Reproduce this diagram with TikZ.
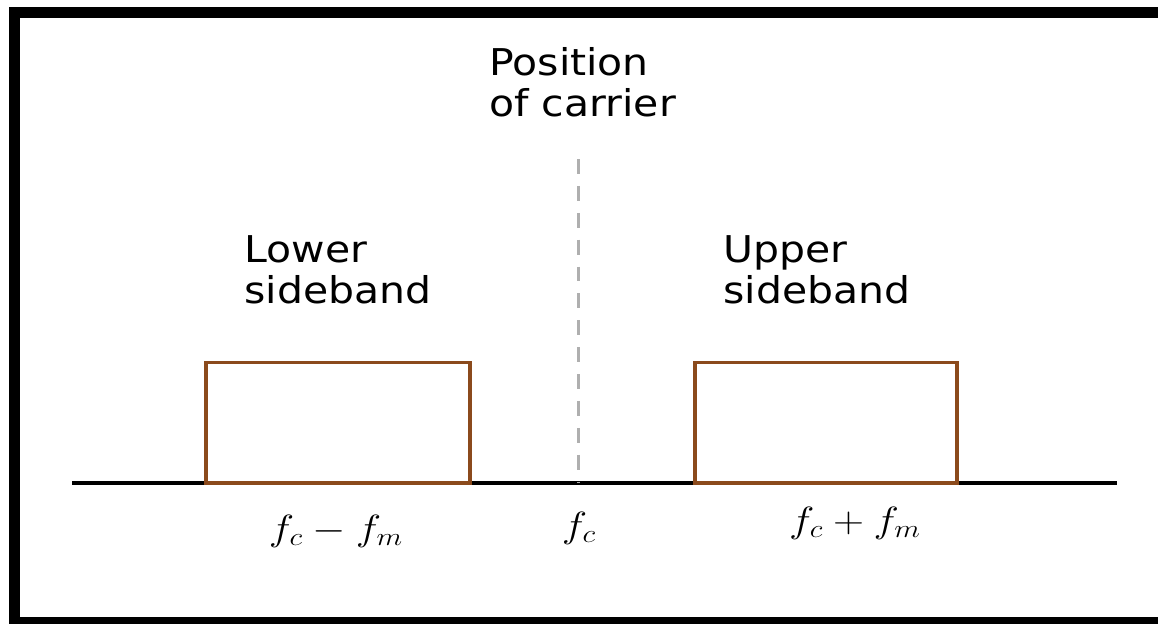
\documentclass[tikz,border=0pt]{standalone}
\usepackage{fontspec}
\setmainfont{DejaVu Sans}
\definecolor{bandbrown}{RGB}{139,74,28}
\definecolor{carriergray}{RGB}{175,175,175}
\begin{document}
\begin{tikzpicture}[x=0.02cm, y=-0.02cm,
		band/.style={draw=bandbrown, line width=1.9pt},
		lbl/.style={anchor=base west, inner sep=0pt, align=left, xscale=1.11, transform shape, font=\fontsize{21}{23.3}\selectfont},
		freq/.style={anchor=base, inner sep=0pt, xscale=1.18, transform shape, font=\fontsize{20}{24}\selectfont}]
		\useasboundingbox (0,0) rectangle (1158,623);
		
		% Draw the outer frame
		\draw[line width=6.3pt] (14.5,12.5) rectangle (1170,622.5);
		
		% Draw the frequency axis
		\coordinate (axl) at (72,483);
		\coordinate (axr) at (1117,483);
		\draw[line width=2pt] (axl) -- (axr);
		
		% Draw the two sidebands
		\foreach \xa/\xb in {206/470,695/957} {
			\draw[band] (\xa,362.5) rectangle (\xb,483);
		}
		
		% Draw the carrier position (dashed)
		\coordinate (ctop) at (578,159);
		\coordinate (cbot) at (578,483);
		\draw[carriergray, line width=1.7pt, dash pattern=on 8.5pt off 6.8pt] (ctop) -- (cbot);
		
		% Labels
		\node[lbl] (carrier) at (489,116) {Position\\of carrier};
		\node[lbl] (lsb) at (244,303) {Lower\\sideband};
		\node[lbl] (usb) at (723,303) {Upper\\sideband};
		
		% Frequency labels
		\node[freq] (lsbf) at (336,540) {$f_c - f_m$};
		\node[freq] (fc) at (579,537) {$f_c$};
		\node[freq] (usbf) at (855,532) {$f_c + f_m$};
	\end{tikzpicture}
\end{document}
